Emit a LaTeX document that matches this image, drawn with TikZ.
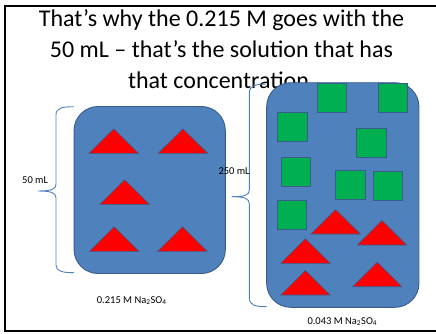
\documentclass[tikz,border=0pt]{standalone}
\usepackage{fontspec}
\setmainfont{Carlito}
\definecolor{offblue}{HTML}{4F81BD}
\definecolor{darkblue}{HTML}{385D8A}
\definecolor{offgreen}{HTML}{00B050}
\tikzset{
  box/.style={draw=darkblue, line width=0.9pt, fill=offblue, rounded corners=24pt, inner sep=0pt},
  brace/.style={draw=offblue, line width=0.9pt},
  title/.style={font=\fontsize{24}{30}\selectfont, anchor=base, inner sep=0pt},
  small/.style={font=\fontsize{10.5}{12}\selectfont, anchor=base west, inner sep=0pt},
  tri/.pic={\draw[draw=darkblue, line width=0.6pt, fill=red] (-24.7,0) -- (0,-24.5) -- (24.7,0) -- cycle;},
  sq/.pic={\draw[draw=darkblue, line width=0.8pt, fill=offgreen] (0,0) rectangle (29.5,29);}
}
\begin{document}
\begin{tikzpicture}[x=1pt, y=-1pt]
\useasboundingbox (0,0) rectangle (436,333);
% frame
\draw[line width=2pt] (437,5.8) -- (5,5.8) -- (5,330.5) -- (437,330.5);
% title
\node[title] (t1) at (221.5,26.7) {That’s why the 0.215 M goes with the};
\node[title] (t2) at (221.5,57.5) {50 mL – that’s the solution that has};
\node[title] (t3) at (221.5,88.2) {that concentration.};
% boxes
\node[box, minimum width=151.3pt, minimum height=167pt] (lbox) at (149.7,190) {};
\node[box, minimum width=152.3pt, minimum height=224.6pt] (rbox) at (342.8,195) {};
% left triangles
\pic at (113.8,153.3) {tri};
\pic at (183,153.3) {tri};
\pic at (124.7,204.3) {tri};
\pic at (114.2,251.3) {tri};
\pic at (182.5,251.3) {tri};
% right squares
\pic at (317.3,83.3) {sq};
\pic at (378.3,83.3) {sq};
\pic at (277.7,112.3) {sq};
\pic at (356.7,128.5) {sq};
\pic at (281,157.3) {sq};
\pic at (335.7,170) {sq};
\pic at (373.3,171.7) {sq};
\pic at (277.3,200.7) {sq};
% right triangles
\pic at (335.7,234) {tri};
\pic at (382,245) {tri};
\pic at (305.4,263.3) {tri};
\pic at (377.3,286.7) {tri};
\pic at (305.4,295) {tri};
% braces
\coordinate (lbt) at (74,106.7);
\coordinate (lbm) at (38,191);
\coordinate (lbb) at (74,272.7);
\draw[brace] (lbt) .. controls (62,106.7) and (56,108) .. (56,115) -- (56,184)
  .. controls (56,189) and (52,191) .. (lbm)
  .. controls (52,191) and (56,193) .. (56,198) -- (56,265)
  .. controls (56,271) and (62,272.7) .. (lbb);
\coordinate (rbt) at (266.7,84);
\coordinate (rbm) at (231.7,196.7);
\coordinate (rbb) at (266.7,306.7);
\draw[brace] (rbt) .. controls (255,84) and (249.3,86) .. (249.3,93) -- (249.3,190)
  .. controls (249.3,195) and (245,196.7) .. (rbm)
  .. controls (245,196.7) and (249.3,198.5) .. (249.3,204) -- (249.3,298)
  .. controls (249.3,305) and (255,306.7) .. (rbb);
% labels
\node[small] (l50) at (22,183.3) {50 mL};
\node[small] (l250) at (218.3,174) {250 mL};
\node[small] (lc1) at (96.7,303.3) {0.215 M Na\textsubscript{2}SO\textsubscript{4}};
\node[small] (lc2) at (307.3,324.3) {0.043 M Na\textsubscript{2}SO\textsubscript{4}};
\end{tikzpicture}
\end{document}
